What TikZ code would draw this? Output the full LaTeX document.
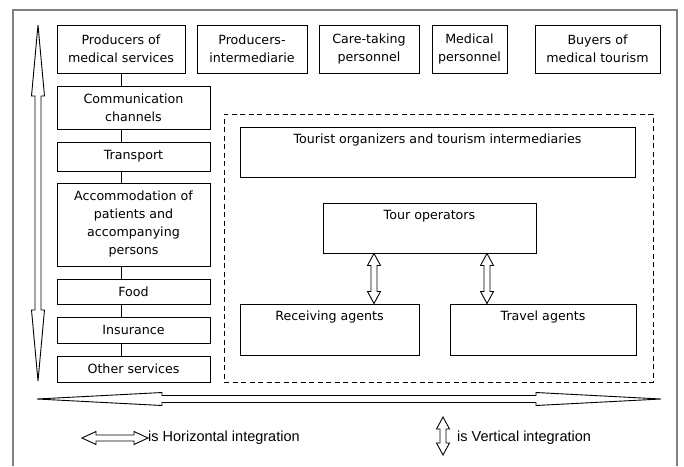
\documentclass[tikz,border=0pt]{standalone}
\usepackage{fontspec}
\setmainfont{DejaVu Sans}
\newfontfamily\legendfont{Liberation Sans}
\usetikzlibrary{calc}
% vertical double arrow: #1 top, #2 bottom, #3 head length, #4 head half width, #5 shaft half width
\newcommand{\varrow}[5]{%
  \draw[arr] let \p1=#1, \p2=#2 in
    (\x1,\y1) -- (\x1-#4,\y1-#3) -- (\x1-#5,\y1-#3) -- (\x1-#5,\y2+#3) -- (\x1-#4,\y2+#3)
    -- (\x1,\y2) -- (\x1+#4,\y2+#3) -- (\x1+#5,\y2+#3) -- (\x1+#5,\y1-#3) -- (\x1+#4,\y1-#3) -- cycle;}
% horizontal double arrow: #1 left, #2 right
\newcommand{\harrow}[5]{%
  \draw[arr] let \p1=#1, \p2=#2 in
    (\x1,\y1) -- (\x1+#3,\y1+#4) -- (\x1+#3,\y1+#5) -- (\x2-#3,\y1+#5) -- (\x2-#3,\y1+#4)
    -- (\x2,\y1) -- (\x2-#3,\y1-#4) -- (\x2-#3,\y1-#5) -- (\x1+#3,\y1-#5) -- (\x1+#3,\y1-#4) -- cycle;}
\begin{document}
\begin{tikzpicture}[x=1pt,y=-1pt,
  txt/.style={font=\fontsize{12.65}{18}\selectfont},
  box/.style={draw, line width=1pt, align=center, inner sep=0pt, txt},
  topbox/.style={draw, line width=1pt, inner sep=0pt},
  toplabel/.style={label={[anchor=center, yshift=-14pt, txt]north:#1}},
  arr/.style={draw, fill=white, line width=0.9pt, line join=miter},
  conn/.style={line width=1pt},
  frame/.style={draw=black!50, line width=2pt},
  legend/.style={anchor=west, inner sep=0pt, font=\legendfont\fontsize{14.5}{17}\selectfont},
  dashbox/.style={draw, line width=1pt, dash pattern=on 5pt off 3.5pt},
]
\useasboundingbox (0,0) rectangle (684,466);
\fill[white] (0,0) rectangle (684,466);
% outer frame
\draw[frame] (13,466) -- (13,10) -- (677,10) -- (677,466);

% top row
\node[box, minimum width=128pt, minimum height=48pt] (p1) at (121,49) {Producers of\\medical services};
\node[box, minimum width=110pt, minimum height=48pt] (p2) at (252,49) {Producers-\\intermediarie};
\node[box, minimum width=100pt, minimum height=48pt] (p3) at (369,49) {Care-taking\\personnel};
\node[box, minimum width=75pt, minimum height=48pt] (p4) at (469.5,49) {Medical\\personnel};
\node[box, minimum width=125pt, minimum height=48pt] (p5) at (597.5,49) {Buyers of\\medical tourism};

% left column
\node[box, minimum width=153pt, minimum height=43pt] (cc) at (133.5,107.5) {Communication\\channels};
\node[box, minimum width=153pt, minimum height=29pt] (tr) at (133.5,156.5) {Transport};
\node[box, minimum width=153pt, minimum height=83pt] (ac) at (133.5,224.5) {Accommodation of\\patients and\\accompanying\\persons};
\node[box, minimum width=153pt, minimum height=25pt] (fo) at (133.5,291.5) {Food};
\node[box, minimum width=153pt, minimum height=26pt] (in) at (133.5,330) {Insurance};
\node[box, minimum width=153pt, minimum height=26pt] (os) at (133.5,369) {Other services};

\draw[conn] (p1.south) -- (p1.south |- cc.north);
\draw[conn] (cc.south -| p1.south) -- (tr.north -| p1.south);
\draw[conn] (tr.south -| p1.south) -- (ac.north -| p1.south);
\draw[conn] (ac.south -| p1.south) -- (fo.north -| p1.south);
\draw[conn] (fo.south -| p1.south) -- (in.north -| p1.south);
\draw[conn] (in.south -| p1.south) -- (os.north -| p1.south);

% dashed region
\node[dashbox, minimum width=429pt, minimum height=268pt, inner sep=0pt] (dr) at (438.5,248) {};
\node[topbox, minimum width=395pt, minimum height=50pt, toplabel={Tourist organizers and tourism intermediaries}] (tio) at (437.5,152) {};
\node[topbox, minimum width=213pt, minimum height=50pt, toplabel={Tour operators}] (to) at (429.5,228) {};
\node[topbox, minimum width=179pt, minimum height=51pt, toplabel={Receiving agents}] (ra) at (329.5,329.5) {};
\node[topbox, minimum width=186pt, minimum height=51pt, toplabel={Travel agents}] (ta) at (543,329.5) {};

\coordinate (c1) at (374,0);
\coordinate (c2) at (487,0);
\varrow{(to.south -| c1)}{(ra.north -| c1)}{12pt}{6.5pt}{3pt}
\varrow{(to.south -| c2)}{(ta.north -| c2)}{12pt}{6.5pt}{3pt}

% big arrows
\coordinate (bvt) at (38,25);
\coordinate (bvb) at (38,381);
\varrow{(bvt)}{(bvb)}{71pt}{6.5pt}{3pt}
\coordinate (bhl) at (37,399);
\coordinate (bhr) at (661,399);
\harrow{(bhl)}{(bhr)}{125pt}{6.5pt}{3.5pt}

% legend
\node[legend] (lh) at (148,438) {is Horizontal integration};
\coordinate (lha) at (82,438);
\harrow{(lha)}{(lh.west)}{14pt}{6.5pt}{3pt}
\node[legend] (lv) at (457,438) {is Vertical integration};
\coordinate (lvt) at (443,417);
\coordinate (lvb) at (443,455);
\varrow{(lvt)}{(lvb)}{12pt}{6.5pt}{3pt}
\end{tikzpicture}
\end{document}
